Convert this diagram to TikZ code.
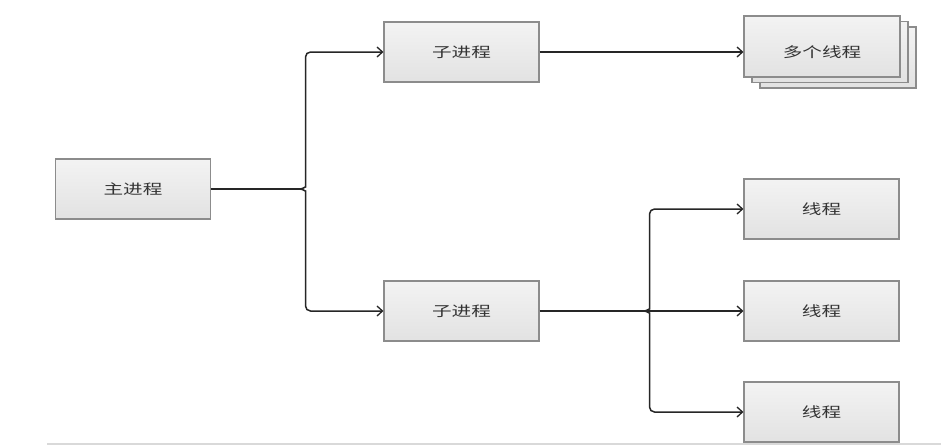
\documentclass[tikz,border=0pt]{standalone}
\usepackage{fontspec}
\newfontfamily\cjk[FakeStretch=1.4]{Noto Sans CJK SC}
\usetikzlibrary{arrows.meta,shadings}
\definecolor{boxborder}{HTML}{8C8C8C}
\definecolor{boxtop}{HTML}{F3F3F3}
\definecolor{boxbot}{HTML}{E2E2E2}
\definecolor{linec}{HTML}{262626}
\definecolor{txtc}{HTML}{333333}
\definecolor{basegray}{HTML}{D9D9D9}
\tikzset{
  lbl/.style={font=\cjk\fontsize{14}{16}\selectfont, text=txtc},
  box/.style={draw=boxborder, line width=1.1pt, top color=boxtop, bottom color=boxbot,
    minimum width=155pt, minimum height=60pt, inner sep=0pt, lbl},
  backbox/.style={draw=boxborder, line width=1.1pt, top color=boxtop, bottom color=boxbot,
    minimum width=156pt, minimum height=61pt, inner sep=0pt},
  conn/.style={draw=linec, line width=1.5pt},
  arr/.style={conn, -{Straight Barb[length=5.5pt,width=10pt,line width=1.3pt]}},
}
\begin{document}
\begin{tikzpicture}[x=1pt,y=-1pt]
\useasboundingbox[fill=white] (0,0) rectangle (941,445);
\draw[draw=basegray, line width=2pt] (47,443.5) -- (941,443.5);

% nodes
\node[backbox] (multic) at (838,57.5) {};
\node[backbox] (multib) at (830,52) {};
\node[backbox] (multi) at (822,46.5) {};
\node[lbl, inner sep=0pt] (multitext) at (822,52) {多个线程};
\node[box] (main) at (133,189) {主进程};
\node[box] (sub1) at (461.5,52) {子进程};
\node[box] (sub2) at (461.5,311) {子进程};
\node[box] (t1) at (821.5,209) {线程};
\node[box] (t2) at (821.5,311) {线程};
\node[box] (t3) at (821.5,412) {线程};

% brace points
\coordinate (tipA) at (299.5,189);
\coordinate (tipB) at (643.5,311);

% main -> sub processes
\draw[conn] (main.east) -- (tipA);
\draw[arr, rounded corners=5pt] (tipA) .. controls (303,189) and (305.5,186.5) .. (305.5,182) |- (sub1.west);
\draw[arr, rounded corners=5pt] (tipA) .. controls (303,189) and (305.5,191.5) .. (305.5,196) |- (sub2.west);

% sub1 -> multi threads
\draw[arr] (sub1.east) -- (sub1.east -| multi.west);

% sub2 -> threads
\draw[conn] (sub2.east) -- (tipB);
\draw[arr] (tipB) -- (t2.west);
\draw[arr, rounded corners=5pt] (tipB) .. controls (647,311) and (649.5,308.5) .. (649.5,304) |- (t1.west);
\draw[arr, rounded corners=5pt] (tipB) .. controls (647,311) and (649.5,313.5) .. (649.5,318) |- (t3.west);
\end{tikzpicture}
\end{document}
